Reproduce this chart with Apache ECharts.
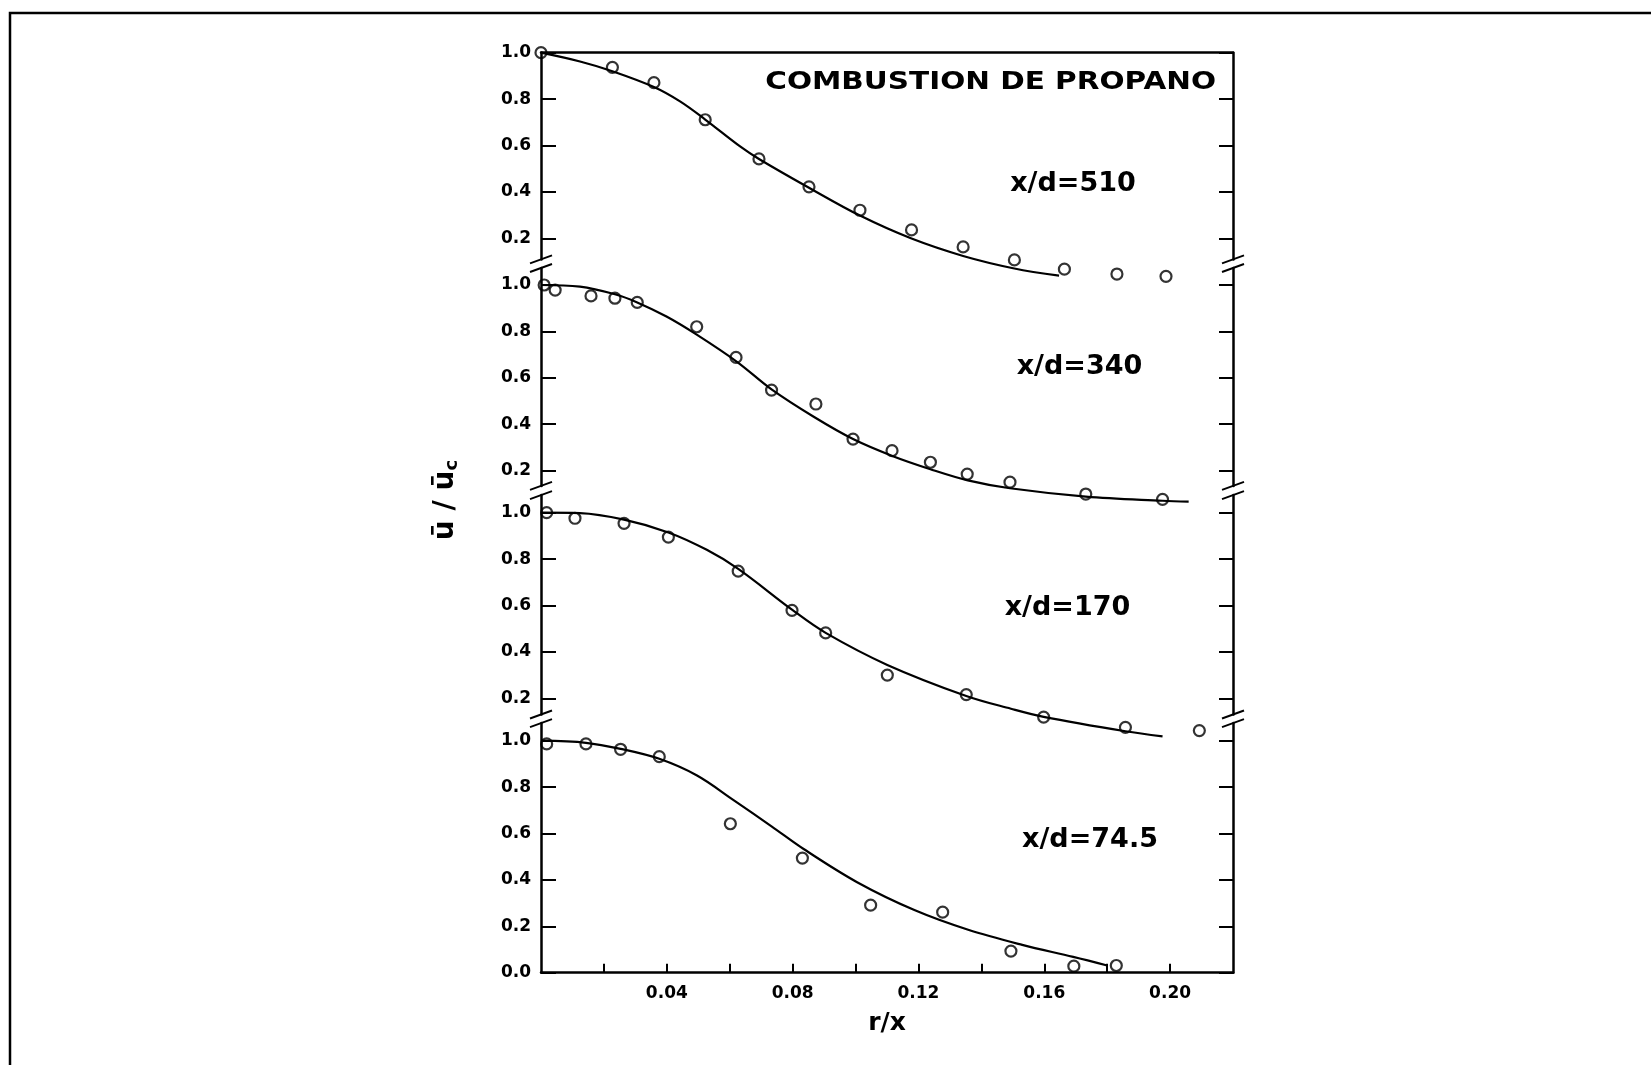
<!DOCTYPE html>
<html>
<head>
<meta charset="utf-8">
<script src="https://cdn.jsdelivr.net/npm/echarts@6/dist/echarts.min.js"></script>
<style>
html,body{margin:0;padding:0;background:#fff;}
#c{width:1651px;height:1065px;}
</style>
</head>
<body>
<div id="c"></div>
<script>
// ---------------- DATA ----------------
const xTickValues = [0.02, 0.04, 0.06, 0.08, 0.10, 0.12, 0.14, 0.16, 0.18, 0.20];
const xLabelValues = [0.04, 0.08, 0.12, 0.16, 0.20];
const yTicksUpper = [0.2, 0.4, 0.6, 0.8, 1.0];
const yTicksBottom = [0.0, 0.2, 0.4, 0.6, 0.8, 1.0];
const titleText = 'COMBUSTION DE PROPANO';
const panelNames = ['x/d=510', 'x/d=340', 'x/d=170', 'x/d=74.5'];
const xName = 'r/x';

// x/d = 510
const pts510 = [[0,1.0],[0.0227,0.937],[0.0359,0.871],[0.0522,0.711],[0.0693,0.542],[0.0852,0.422],
  [0.1014,0.321],[0.1178,0.236],[0.1342,0.163],[0.1505,0.107],[0.1664,0.067],[0.1831,0.046],[0.1987,0.036]];
const fit510 = [[0,1.0],[0.0124,0.962],[0.0227,0.920],[0.0359,0.852],[0.0442,0.790],[0.0522,0.712],
  [0.0633,0.596],[0.0693,0.542],[0.0852,0.418],[0.1014,0.298],[0.1178,0.199],[0.1342,0.124],[0.1505,0.070],[0.1647,0.039]];

// x/d = 340
const pts340 = [[0.001,1.0],[0.0045,0.978],[0.0159,0.953],[0.0235,0.943],[0.0306,0.925],[0.0495,0.820],
  [0.0620,0.688],[0.0733,0.547],[0.0874,0.487],[0.0992,0.336],[0.1116,0.286],[0.1238,0.236],[0.1355,0.185],
  [0.1491,0.150],[0.1732,0.099],[0.1976,0.076]];
const fit340 = [[0,1.0],[0.0124,0.993],[0.0235,0.960],[0.0306,0.925],[0.0399,0.864],[0.0495,0.786],[0.0623,0.669],
  [0.0733,0.550],[0.0867,0.432],[0.0992,0.336],[0.1119,0.262],[0.1238,0.206],[0.1357,0.158],[0.1491,0.124],
  [0.1732,0.088],[0.1976,0.070],[0.2059,0.066]];

// x/d = 170
const pts170 = [[0.0018,1.0],[0.0108,0.976],[0.0264,0.954],[0.0405,0.895],[0.0627,0.748],[0.0798,0.579],
  [0.0905,0.482],[0.1101,0.300],[0.1352,0.216],[0.1598,0.119],[0.1858,0.075],[0.2093,0.061]];
const fit170 = [[0,1.0],[0.0124,0.998],[0.0264,0.970],[0.0405,0.915],[0.0527,0.840],[0.0627,0.758],[0.0798,0.582],
  [0.0905,0.482],[0.1101,0.344],[0.1352,0.210],[0.1494,0.155],[0.1598,0.120],[0.1858,0.058],[0.1976,0.036]];

// x/d = 74.5
const pts745 = [[0.0018,0.986],[0.0143,0.986],[0.0253,0.963],[0.0376,0.931],[0.0602,0.642],[0.0831,0.494],
  [0.1048,0.291],[0.1277,0.261],[0.1494,0.093],[0.1694,0.028],[0.1829,0.031]];
const fit745 = [[0,1.0],[0.0143,0.991],[0.0253,0.965],[0.0376,0.922],[0.0496,0.850],[0.0611,0.745],[0.0734,0.630],
  [0.0835,0.533],[0.1005,0.390],[0.1187,0.270],[0.1358,0.185],[0.1530,0.120],[0.1692,0.068],[0.1800,0.031]];

// ---------------- LAYOUT ----------------
const FONT = 'DejaVu Sans';
const W = 1651;
const L = 541, R = 1233, K = 232;
const panels = [
  {anchor: 52.7,  min: 0.109, max: 1.0,   pts: pts510, fit: fit510, ticks: yTicksUpper,  lx: 1073,   ly: 184},
  {anchor: 285,   min: 0.134, max: 1.073, pts: pts340, fit: fit340, ticks: yTicksUpper,  lx: 1079.5, ly: 366.5},
  {anchor: 512.7, min: 0.130, max: 1.076, pts: pts170, fit: fit170, ticks: yTicksUpper,  lx: 1067.5, ly: 608},
  {anchor: 740.7, min: 0.0,   max: 1.076, pts: pts745, fit: fit745, ticks: yTicksBottom, lx: 1090,   ly: 839.5}
];
panels.forEach(p => {
  p.top = p.anchor - (p.max - 1) * K;
  p.height = (p.max - p.min) * K;
  p.bottom = p.top + p.height;
});

const black = '#000';
const grids = [], xAxes = [], yAxes = [], series = [];
const labelFont = {color: black, fontFamily: FONT, fontWeight: 'bold', fontSize: 17};

panels.forEach((p, i) => {
  grids.push({left: L, right: W - R, top: p.top, height: p.height, containLabel: false});
  const xa = {
    type: 'value', gridIndex: i, min: 0, max: 0.22,
    splitLine: {show: false},
    axisLine: {show: false, onZero: false},
    axisTick: {show: false},
    axisLabel: {show: false}
  };
  if (i === 0) {
    xa.position = 'top';
    xa.axisLine = {show: true, onZero: false, lineStyle: {color: black, width: 2.5}};
  }
  if (i === panels.length - 1) {
    xa.position = 'bottom';
    xa.axisLine = {show: true, onZero: false, lineStyle: {color: black, width: 2.5}};
    xa.axisTick = {show: true, inside: true, length: 9, customValues: xTickValues, lineStyle: {color: black, width: 2}};
    xa.axisLabel = Object.assign({show: true, customValues: xLabelValues, formatter: v => v.toFixed(2), margin: 12}, labelFont);
    xa.name = xName;
    xa.nameLocation = 'middle';
    xa.nameGap = 38;
    xa.nameTextStyle = {color: black, fontFamily: FONT, fontWeight: 'bold', fontSize: 25};
  }
  xAxes.push(xa);
});
panels.forEach((p, i) => {
  yAxes.push({
    type: 'value', gridIndex: i, position: 'left', min: p.min, max: p.max,
    splitLine: {show: false},
    axisLine: {show: true, onZero: false, lineStyle: {color: black, width: 2.5}},
    axisTick: {show: true, inside: true, length: 15, customValues: p.ticks, lineStyle: {color: black, width: 2}},
    axisLabel: Object.assign({show: true, customValues: p.ticks, formatter: v => v.toFixed(1), margin: 10}, labelFont)
  });
});
panels.forEach((p, i) => {
  yAxes.push({
    type: 'value', gridIndex: i, position: 'right', min: p.min, max: p.max,
    splitLine: {show: false},
    axisLine: {show: true, onZero: false, lineStyle: {color: black, width: 2.5}},
    axisTick: {show: true, inside: true, length: 14, customValues: p.ticks, lineStyle: {color: black, width: 2}},
    axisLabel: {show: false}
  });
});
panels.forEach((p, i) => {
  series.push({
    type: 'line', name: panelNames[i] + ' fit', xAxisIndex: i, yAxisIndex: i, data: p.fit,
    smooth: 0.35, showSymbol: false, clip: false, z: 2,
    lineStyle: {color: black, width: 2.2}, silent: true
  });
  series.push({
    type: 'scatter', name: panelNames[i], xAxisIndex: i, yAxisIndex: i, data: p.pts,
    symbol: 'circle', symbolSize: 11, clip: false, z: 3, silent: true,
    itemStyle: {color: 'rgba(255,255,255,0)', borderColor: black, borderWidth: 2.2}
  });
});

// ---------------- GRAPHICS (frame, texts, axis breaks) ----------------
const graphics = [];
graphics.push({type: 'rect', shape: {x: 10, y: 13, width: 1700, height: 1100},
  style: {fill: 'none', stroke: black, lineWidth: 2.5}, z: 0, silent: true});
graphics.push({type: 'text', x: 1216, y: 82, scaleX: 1.18,
  style: {text: titleText, font: 'bold 25px "DejaVu Sans"', fill: black,
    align: 'right', verticalAlign: 'middle', textAlign: 'right', textVerticalAlign: 'middle'}, z: 10});
panels.forEach((p, i) => {
  graphics.push({type: 'text', x: p.lx, y: p.ly,
    style: {text: panelNames[i], font: 'bold 27px "DejaVu Sans"', fill: black,
      align: 'center', verticalAlign: 'middle', textAlign: 'center', textVerticalAlign: 'middle'}, z: 10});
});
graphics.push({type: 'text', x: 446, y: 500, rotation: Math.PI / 2,
  style: {text: '{u|ū / ū}{c|c}', fill: black,
    rich: {u: {fontFamily: FONT, fontWeight: 'bold', fontSize: 28, fill: black, color: black},
           c: {fontFamily: FONT, fontWeight: 'bold', fontSize: 18, fill: black, color: black, padding: [12, 0, 0, 0]}},
    align: 'center', verticalAlign: 'middle', textAlign: 'center', textVerticalAlign: 'middle'}, z: 10});
for (let i = 0; i < panels.length - 1; i++) {
  const ys = [panels[i].bottom, panels[i + 1].top];
  [L, R].forEach(x => {
    ys.forEach(y => {
      graphics.push({type: 'line', shape: {x1: x - 11, y1: y + 4, x2: x + 11, y2: y - 4},
        style: {stroke: black, lineWidth: 2}, z: 10, silent: true});
    });
  });
}

const chart = echarts.init(document.getElementById('c'), null, {renderer: 'canvas'});
chart.setOption({
  backgroundColor: '#fff',
  animation: false,
  grid: grids,
  xAxis: xAxes,
  yAxis: yAxes,
  series: series,
  graphic: {elements: graphics}
});
</script>
</body>
</html>
